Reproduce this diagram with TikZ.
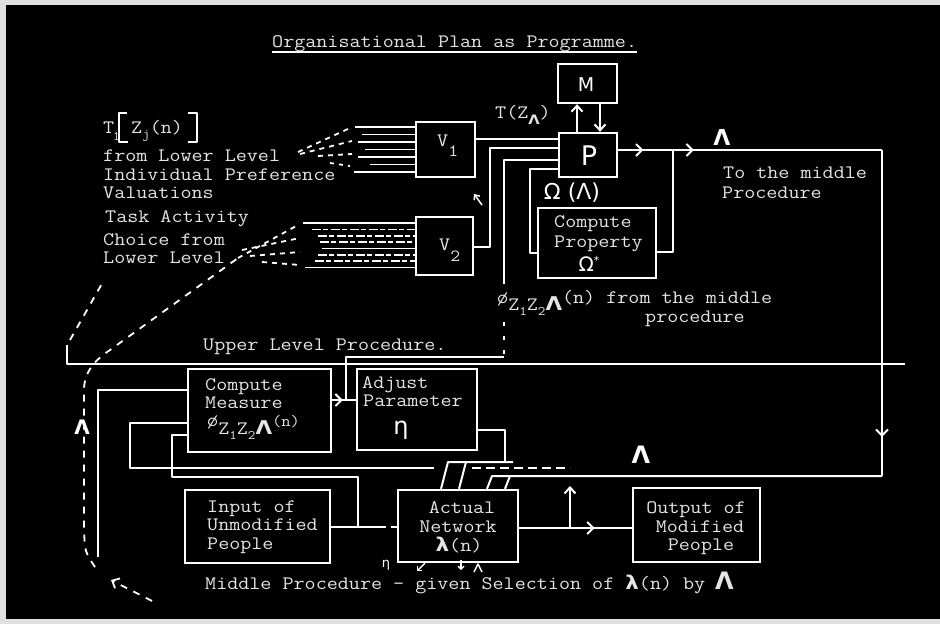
\documentclass[tikz,border=0pt]{standalone}
\usepackage{fontspec}
\usepackage{graphicx}
\newfontfamily\handfont{DejaVu Sans}
\usetikzlibrary{arrows.meta,decorations.markings}
\definecolor{chalk}{gray}{0.9}
\newcommand{\twf}{\ttfamily\fontsize{19}{19}\selectfont}
\newcommand{\W}[1]{\scalebox{1.13}[1]{#1}}
\newcommand{\subf}{\fontsize{13}{13}\selectfont}
\newcommand{\vsub}{\fontsize{17}{17}\selectfont}
\newcommand{\hlam}{{\handfont\bfseries Λ}}
\newcommand{\hsmlam}{{\handfont\bfseries λ}}
\tikzset{
  wire/.style={draw=white, line width=2pt, line join=round},
  thinwire/.style={draw=white, line width=1.6pt},
  boxn/.style={draw=white, line width=2.4pt, inner sep=0pt},
  txt/.style={text=chalk, font=\twf, inner sep=0pt, anchor=base west},
  txtc/.style={txt, anchor=base},
  hnd/.style={text=white, inner sep=0pt, font=\handfont\fontsize{#1}{#1}\selectfont},
  hndb/.style={text=white, inner sep=0pt, font=\handfont\bfseries\fontsize{#1}{#1}\selectfont},
  dashline/.style={draw=white, line width=1.8pt, dash pattern=on 7pt off 7pt},
  fanline/.style={draw=white, line width=1.7pt},
  fandash/.style={draw=white, line width=1.6pt, dash pattern=on 9pt off 2pt on 5pt off 3pt},
  midarr/.style={postaction={decorate}, decoration={markings, mark=at position #1 with {\arrow[white]{Straight Barb[length=6pt,width=12pt]}}}},
  tipped/.style={-{Straight Barb[length=6pt,width=11pt]}}
}
\begin{document}
\begin{tikzpicture}[x=1pt,y=-1pt]
\useasboundingbox (0,0) rectangle (940,624);
\fill[white!88!black] (0,0) rectangle (940,624);
\fill[black] (6,5) rectangle (940,619);

% ---------- title ----------
\node[txt] (title) at (272,47) {\W{Organisational Plan as Programme.}};
\draw[thinwire] ([yshift=-5pt]title.base west) -- ([yshift=-5pt]title.base east);

% ---------- boxes ----------
\node[boxn, minimum width=59pt, minimum height=55pt] (V1) at (445.5,149.5) {};
\node[boxn, minimum width=57pt, minimum height=58pt] (V2) at (444.5,246) {};
\node[boxn, minimum width=59pt, minimum height=39pt] (M) at (587.5,83.5) {};
\node[boxn, minimum width=58pt, minimum height=44pt] (P) at (588,155) {};
\node[boxn, minimum width=118pt, minimum height=70pt] (CP) at (597,243) {};
\node[boxn, minimum width=143pt, minimum height=83pt] (CM) at (259.5,410.5) {};
\node[boxn, minimum width=120pt, minimum height=81pt] (AP) at (417,409.5) {};
\node[boxn, minimum width=120pt, minimum height=72pt] (AN) at (458,526) {};
\node[boxn, minimum width=145pt, minimum height=73pt] (IN) at (257.5,526.5) {};
\node[boxn, minimum width=127pt, minimum height=74pt] (OUT) at (696.5,525) {};

% ---------- box texts ----------
\node[txt] (V1l) at (437,146) {\W{V\raisebox{-10pt}{\vsub 1}}};
\node[txt] (V2l) at (439,250) {\W{V\raisebox{-11pt}{\vsub 2}}};
\node[hnd=19] (Ml) at (586,85) {M};
\node[hnd=27] (Pl) at (589,156) {P};
\node[txt] (cp1) at (554,227) {\W{Compute}};
\node[txt] (cp2) at (554,247) {\W{Property}};
\node[hnd=20] (cp3) at (589,264) {Ω\raisebox{7pt}{\fontsize{11}{11}\selectfont *}};
\node[txt] (cm1) at (205,390) {\W{Compute}};
\node[txt] (cm2) at (205,408) {\W{Measure}};
\node[txt] (cm3) at (207,426) {\W{ø\raisebox{-8pt}{Z\raisebox{-5pt}{\subf 1}Z\raisebox{-5pt}{\subf 2}\hlam}{\fontsize{16}{16}\selectfont(n)}}};
\node[txt] (ap1) at (362,388) {\W{Adjust}};
\node[txt] (ap2) at (363,406) {\W{Parameter}};
\node[hnd=24] (ap3) at (401,430) {η};
\node[txtc] (an1) at (462,513) {\W{Actual}};
\node[txtc] (an2) at (458,532) {\W{Network}};
\node[txtc] (an3) at (459,551) {\W{\hsmlam(n)}};
\node[txt] (in1) at (207,512) {\W{Input of}};
\node[txt] (in2) at (207,530) {\W{Unmodified}};
\node[txt] (in3) at (207,549) {\W{People}};
\node[txtc] (out1) at (696,513) {\W{Output of}};
\node[txtc] (out2) at (700,532) {\W{Modified}};
\node[txtc] (out3) at (701,550) {\W{People}};

% ---------- left texts ----------
\node[txt] (tT) at (103,133) {\W{T}};
\node[txt, font=\ttfamily\subf] (tT1) at (113,140) {1};
\draw[wire, line width=2.6pt] (127,113) -- (119,113) -- (119,142) -- (128,142);
\node[txt] (tZ) at (131,133) {\W{Z\raisebox{-5pt}{\subf j}(n)}};
\draw[wire, line width=2.6pt] (188,113) -- (197,113) -- (197,142) -- (188,142);
\node[txt] (l1) at (103,161) {\W{from Lower Level}};
\node[txt] (l2) at (103,180) {\W{Individual Preference}};
\node[txt] (l3) at (103,198) {\W{Valuations}};
\node[txt] (l4) at (105,222) {\W{Task Activity}};
\node[txt] (l5) at (103,245) {\W{Choice from}};
\node[txt] (l6) at (103,263) {\W{Lower Level}};

% ---------- other labels ----------
\node[txt] (tzl) at (495,118) {\W{T(Z\raisebox{-6pt}{\handfont\bfseries\fontsize{13}{13}\selectfont Λ})}};
\node[hnd=22] (oml) at (572,193) {Ω (Λ)};
\node[hndb=22] (lamA) at (722,137) {Λ};
\node[txt] (to1) at (723,178) {\W{To the middle}};
\node[txt] (to2) at (722,198) {\W{Procedure}};
\node[txt] (phi1) at (497,303) {\W{ø\raisebox{-7pt}{Z\raisebox{-5pt}{\subf 1}Z\raisebox{-5pt}{\subf 2}\hlam}(n) from the middle}};
\node[txt] (phi2) at (645,322) {\W{procedure}};
\node[txt] (upl) at (203,350) {\W{Upper Level Procedure.}};
\node[hndb=24] (lamB) at (641,455) {Λ};
\node[hndb=20] (lamC) at (82,427) {Λ};
\node[txt] (mid) at (205,589) {\W{Middle Procedure - given Selection of \hsmlam(n) by} {\handfont\bfseries\fontsize{24}{24}\selectfont Λ}};
\node[hnd=13] (eta2) at (386,565) {η};

% ---------- fans into V1 and V2 ----------
\draw[fanline] (355,127) -- (V1.west |- 0,127);
\draw[fanline] (362,134.5) -- (V1.west |- 0,134.5);
\draw[fanline] (358,142) -- (V1.west |- 0,142);
\draw[fanline] (365,149.5) -- (V1.west |- 0,149.5);
\draw[fanline] (358,157) -- (V1.west |- 0,157);
\draw[fanline] (370,164.5) -- (V1.west |- 0,164.5);
\draw[fanline] (354,172) -- (V1.west |- 0,172);
\draw[dashline, dash pattern=on 5pt off 5pt] (298,152) -- (350,128);
\draw[dashline, dash pattern=on 5pt off 5pt] (300,154) -- (352,141);
\draw[dashline, dash pattern=on 5pt off 5pt] (318,156) -- (352,154);
\draw[dashline, dash pattern=on 4pt off 5pt] (330,163) -- (350,166);

\draw[fanline] (303,223) -- (V2.west |- 0,223);
\draw[fandash] (312,229.5) -- (V2.west |- 0,229.5);
\draw[fandash] (318,236) -- (V2.west |- 0,236);
\draw[fandash] (320,242) -- (V2.west |- 0,242);
\draw[fanline] (322,248.5) -- (V2.west |- 0,248.5);
\draw[fandash] (318,255) -- (V2.west |- 0,255);
\draw[fandash] (315,261) -- (V2.west |- 0,261);
\draw[fanline] (305,267.5) -- (V2.west |- 0,267.5);
\draw[dashline, dash pattern=on 5pt off 5pt] (238,258) -- (298,225);
\draw[dashline, dash pattern=on 5pt off 5pt] (242,250) -- (300,238);
\draw[dashline, dash pattern=on 5pt off 5pt] (250,256) -- (300,252);
\draw[dashline, dash pattern=on 5pt off 5pt] (262,262) -- (300,265);

% ---------- upper level connectors ----------
\draw[wire] (V1.east |- 0,139) -- (P.west |- 0,139);
\draw[wire] (V2.east |- 0,247) -- (490,247) -- (490,148) -- (P.west |- 0,148);
\draw[wire] (P.west |- 0,160) -- (504,160) -- (504,284);
\draw[wire, dash pattern=on 4pt off 10pt] (504,322) -- (504,357);
\draw[wire] (504,357) -- (346,357) -- (346,400);
\draw[wire] (CP.west |- 0,253) -- (530,253) -- (530,169) -- (P.west |- 0,169);
\draw[wire, tipped] (P.north -| 577,0) -- (M.south -| 577,0);
\draw[wire, tipped] (M.south -| 600,0) -- (P.north -| 600,0);
\draw[wire, line width=1.5pt, -{Straight Barb[length=4pt,width=7pt]}] (482,205) -- (474,194);

\coordinate (j1) at (673,150);
\coordinate (c1) at (882,150);
\coordinate (c2) at (882,476);
\draw[wire, midarr=0.46] (P.east |- j1) -- (j1);
\draw[wire] (CP.east |- 0,252) -- (j1 |- 0,252) -- (j1);
\draw[wire, midarr=0.1] (j1) -- (c1);
\draw[wire, midarr=0.88] (c1) -- (c2);
\draw[wire] (c2) -- (492,476) -- (AN.north -| 487,0);
\draw[wire] (510,476) -- (AN.north -| 505,0);

% dividing line
\draw[wire] (67,345) -- (67,364) -- (905,364);

% ---------- middle procedure connectors ----------
\draw[wire, midarr=0.45] (CM.east |- 0,400) -- (AP.west |- 0,400);
\draw[wire] (AP.east |- 0,430) -- (505,430) -- (505,462);
\draw[wire] (513,462) -- (448,462) -- (AN.north -| 441,0);
\draw[wire] (466,462) -- (AN.north -| 459,0);

\draw[wire] (CM.west |- 0,390) -- (98,390) -- (98,557);
\draw[wire] (CM.west |- 0,423) -- (130,423) -- (130,468) -- (434,468);
\draw[wire, dash pattern=on 9pt off 5pt] (472,468) -- (570,468);
\draw[wire] (CM.west |- 0,435) -- (172,435) -- (172,477) -- (358,477) -- (358,527);
\draw[wire] (IN.east |- 0,527) -- (386,527);
\draw[wire] (391,527) -- (AN.west |- 0,527);

\draw[wire, midarr=0.67] (AN.east |- 0,528) -- (OUT.west |- 0,528);
\draw[wire, tipped] (570,528) -- (570,486);

% small marks under the actual network
\draw[wire, line width=1.4pt, -{Straight Barb[length=3pt,width=6pt]}] (425,563) -- (417,571);
\draw[wire, line width=1.4pt, -{Straight Barb[length=3pt,width=6pt]}] (461,560) -- (461,570);
\draw[wire, line width=1.4pt] (474,572) -- (478,564) -- (482,572);

% ---------- dashed feedback on the left ----------
\draw[dashline, -{Straight Barb[length=6pt,width=11pt]}] (152,601) -- (111,580);
\draw[dashline] (95,567) .. controls (85,552) .. (84,530) -- (84,390) .. controls (84,372) and (95,360) .. (110,350) -- (238,258);
\draw[dashline] (70,340) -- (104,280);
\end{tikzpicture}
\end{document}
